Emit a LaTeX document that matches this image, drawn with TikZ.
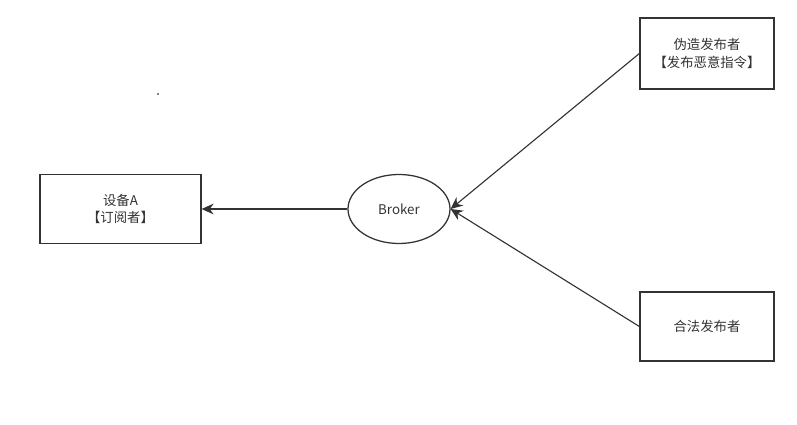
\documentclass[tikz,border=0pt]{standalone}
\usepackage{fontspec}
\newfontfamily\cjk{Noto Sans CJK SC}
\usetikzlibrary{arrows.meta, shapes.geometric}
\definecolor{lineclr}{HTML}{333333}
\definecolor{txtclr}{HTML}{333333}

\begin{document}
\begin{tikzpicture}[
  x=0.025cm, y=-0.025cm,
  >={Stealth[length=3mm, width=2.7mm]},
  box/.style    = {draw=lineclr, line width=0.9pt, align=center,
                   font=\cjk\fontsize{9.5}{12.5}\selectfont, text=txtclr,
                   inner sep=2pt},
  broker/.style = {draw=lineclr, ellipse, line width=0.9pt,
                   minimum width=102*0.025cm, minimum height=69*0.025cm,
                   font=\cjk\fontsize{9.5}{12.5}\selectfont, text=txtclr, inner sep=0pt},
  msg/.style    = {->, line width=0.8pt, draw=lineclr},
]
\useasboundingbox (0,0) rectangle (797,425);

% ---------- nodes ----------
\node[box, minimum width=161*0.025cm, minimum height=69*0.025cm] (devA)
     at (120.5,209) {设备A\\【订阅者】};
\node[broker] (brk) at (399,209) {Broker};
\node[box, minimum width=134*0.025cm, minimum height=71*0.025cm] (fake)
     at (707,53.5) {伪造发布者\\【发布恶意指令】};
\node[box, minimum width=134*0.025cm, minimum height=69*0.025cm] (legit)
     at (707,326.5) {合法发布者};

% stray dot
\fill[black] (158,94) circle (0.6pt);

% ---------- messages ----------
\draw[msg] (brk.west) -- (devA.east);
\draw[msg] (fake.west) -- (brk.east);
\draw[msg] (legit.west) -- (brk.east);

\end{tikzpicture}
\end{document}
